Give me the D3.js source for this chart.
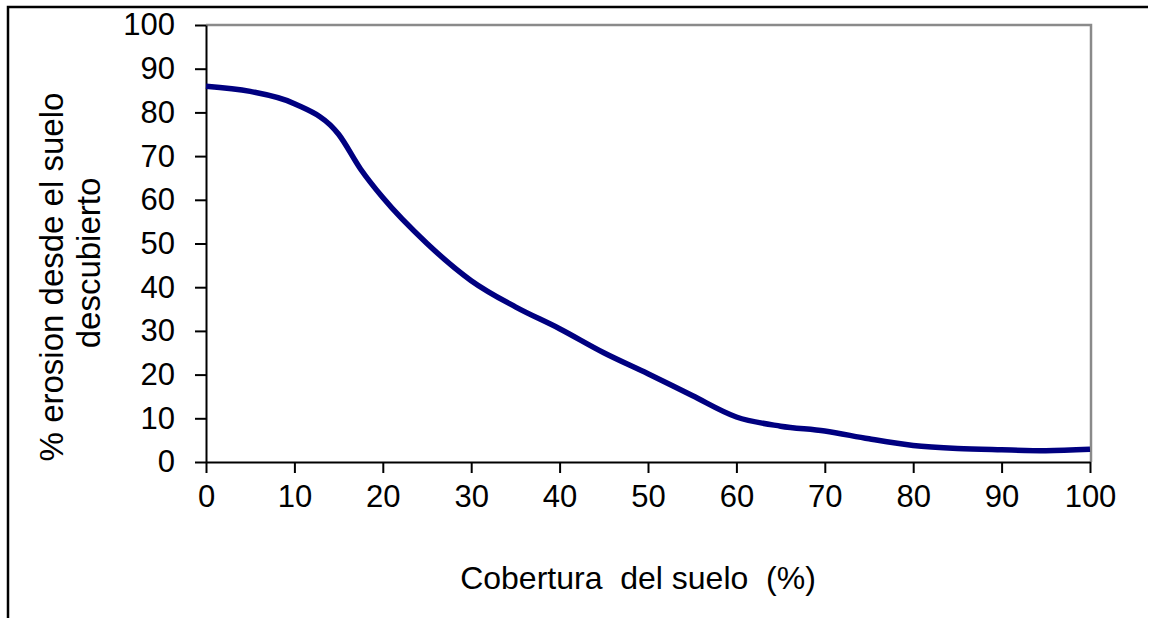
<!DOCTYPE html>
<html>
<head>
<meta charset="utf-8">
<script src="https://cdn.jsdelivr.net/npm/d3@7"></script>
<style>
	body { margin: 0; background: #ffffff; }
	svg { display: block; font-family: "Liberation Sans", Arial, sans-serif; }
</style>
</head>
<body>
<svg></svg>
<script>
const coverage = [0, 5, 10, 15, 17.5, 20, 25, 30, 35, 40, 45, 50, 55, 60, 65, 70, 75, 80, 85, 90, 95, 100];
const erosion = [86, 84.8, 82, 75, 67, 60.5, 50, 41.5, 35.5, 30.5, 25, 20.2, 15.2, 10.3, 8.2, 7.1, 5.3, 3.8, 3.1, 2.8, 2.6, 2.9];
const xTicks = [0, 10, 20, 30, 40, 50, 60, 70, 80, 90, 100];
const yTicks = [0, 10, 20, 30, 40, 50, 60, 70, 80, 90, 100];
const xTitle = "Cobertura\u00a0 del suelo\u00a0 (%)";
const yTitle = ["% erosion desde el suelo", "descubierto"];

const svgWidth = 1154;
const svgHeight = 618;
const plot = { left: 206, right: 1090, top: 25, bottom: 462 };
const svg = d3.select("svg")
				.attr("width", svgWidth)
				.attr("height", svgHeight);

let xScale = d3.scaleLinear()
				.domain([0, 100])
				.range([plot.left, plot.right]);
let yScale = d3.scaleLinear()
				.domain([0, 100])
				.range([plot.bottom, plot.top]);

// outer frame (top and left only are visible)
svg
	.append("path")
	.attr("d", `M8,${svgHeight} V7 H1148`)
	.attr("fill", "none")
	.attr("stroke", "#000")
	.attr("stroke-width", 2.5);

// plot area border, grey on top and right
svg
	.append("path")
	.attr("d", `M${plot.left},${plot.top} H${plot.right + 1} V${plot.bottom}`)
	.attr("fill", "none")
	.attr("stroke", "#8a8a8a")
	.attr("stroke-width", 2.5);

let xAxis = d3.axisBottom(xScale)
				.tickValues(xTicks)
				.tickSize(11)
				.tickSizeOuter(0)
				.tickPadding(12);
let yAxis = d3.axisLeft(yScale)
				.tickValues(yTicks)
				.tickSize(11)
				.tickSizeOuter(0)
				.tickPadding(20);

let gx = svg
	.append("g")
	.attr("transform", `translate(0, ${plot.bottom})`)
	.call(xAxis);
let gy = svg
	.append("g")
	.attr("transform", `translate(${plot.left}, 0)`)
	.call(yAxis);

[gx, gy].forEach(g => {
	g.selectAll("path, line")
		.attr("stroke", "#000")
		.attr("stroke-width", 2);
	g.selectAll("text")
		.attr("fill", "#000")
		.attr("font-size", "31px")
		.attr("font-family", "\"Liberation Sans\", Arial, sans-serif");
});

// Data line
let line = d3.line()
				.x((d, i) => xScale(coverage[i]))
				.y(d => yScale(d))
				.curve(d3.curveMonotoneX);

svg
	.append("path")
	.datum(erosion)
	.attr("d", line)
	.attr("fill", "none")
	.attr("stroke", "#000080")
	.attr("stroke-width", 5.5)
	.attr("stroke-linejoin", "round");

// Axes labels
svg
	.append("text")
	.text(xTitle)
	.attr("x", 638)
	.attr("y", 589)
	.attr("font-size", "32px")
	.attr("fill", "#000")
	.attr("text-anchor", "middle");

svg
	.selectAll(".ytitle")
	.data(yTitle)
	.enter()
	.append("text")
	.attr("class", "ytitle")
	.text(d => d)
	.attr("transform", (d, i) => `translate(${i ? 100 : 63}, ${i ? 263 : 277}) rotate(-90)`)
	.attr("font-size", "33px")
	.attr("fill", "#000")
	.attr("text-anchor", "middle");
</script>
</body>
</html>
